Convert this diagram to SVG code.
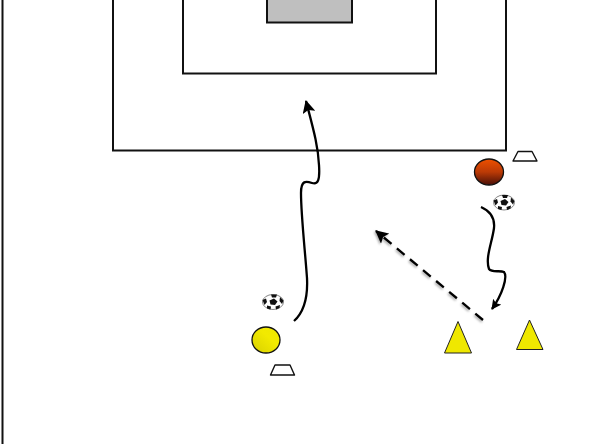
<svg xmlns="http://www.w3.org/2000/svg" width="610" height="444" viewBox="0 0 610 444">
<style>
.line{fill:none;stroke:#111;stroke-width:2}
.cone{fill:#efe800;stroke:#222;stroke-width:1}
.marker{fill:#fff;stroke:#111;stroke-width:1.4;stroke-linejoin:round}
.run{fill:none;stroke:#000;stroke-width:2.300;stroke-linecap:butt}
.spot{fill:#111}
</style>
<defs>
<linearGradient id="red" x1="0" y1="0" x2="0" y2="1"><stop offset="0" stop-color="#ee5000"/><stop offset="0.5" stop-color="#bb3a06"/><stop offset="1" stop-color="#4a1008"/></linearGradient>
<linearGradient id="yel" x1="0" y1="1" x2="1" y2="0"><stop offset="0" stop-color="#d8d000"/><stop offset="0.6" stop-color="#f2ea00"/><stop offset="1" stop-color="#efe800"/></linearGradient>
<filter id="soft" x="-20%" y="-20%" width="140%" height="140%"><feDropShadow dx="-1" dy="1.500" stdDeviation="1.200" flood-color="#000" flood-opacity="0.350"/></filter>
<marker id="head" viewBox="0 0 10 10" refX="9" refY="5" markerWidth="10" markerHeight="10" markerUnits="userSpaceOnUse" orient="auto"><path d="M0 0L10 5L0 10L2 5Z" fill="#000"/></marker>
<marker id="headL" viewBox="0 0 12 12" refX="11" refY="6" markerWidth="13" markerHeight="13" markerUnits="userSpaceOnUse" orient="auto"><path d="M0 0L12 6L0 12L2.500 6Z" fill="#000"/></marker>
<g id="ball">
<ellipse cx="0" cy="0" rx="10.500" ry="7.500" fill="#fff" stroke="#666" stroke-width="0.800"/>
<path class="spot" d="M-3.500-1.500L1-3.500L4.500-.5L2 3L-2.500 2.500Z"/>
<path class="spot" d="M-2-7.500L4-7.500L3-4.500L-1-4.500Z"/>
<path class="spot" d="M-10.500-2L-7-3.500L-6 0L-8.500 3Z"/>
<path class="spot" d="M7-5L10.500-1.500L9 2L6.500-1Z"/>
<path class="spot" d="M-6 3.500L-2 4.500L-2.500 7.500L-6 6.500Z"/>
<path class="spot" d="M2.500 4.500L7 3L6.500 6L3 7.500Z"/>
</g>
</defs>
<g id="field">
<rect id="boundary" class="line" x="2.500" y="-10" width="700" height="500"/>
<rect id="penalty-area" class="line" x="113" y="-10" width="393" height="160.500"/>
<rect id="goal-area" class="line" x="183" y="-10" width="253" height="83.500"/>
<rect id="goal" x="267" y="-10" width="85" height="32.500" fill="#bfbfbf" stroke="#111" stroke-width="2"/>
</g>
<g id="connectors">
<path id="run-left" class="run" marker-end="url(#headL)" d="M294 321C304 312 308 298 307 278C305 250 301 215 301 193C301 180 306 181 312 183C318 185 320 180 319 165C318 145 313 128 306 101"/>
<path id="run-right" class="run" marker-end="url(#head)" d="M481 207C490 211 495 218 494 228C492 243 485 258 489 269C492 273 500 270 504 272C508 277 502 295 492 309"/>
<path id="pass" class="run" stroke-dasharray="10 7" marker-end="url(#headL)" filter="url(#soft)" d="M483 320L376 231"/>
</g>
<g id="player-red"><ellipse cx="489" cy="172" rx="14.500" ry="13" fill="url(#red)" stroke="#111" stroke-width="1.300"/></g>
<g id="player-yellow"><ellipse cx="266" cy="340" rx="14" ry="13" fill="url(#yel)" stroke="#111" stroke-width="1.300"/></g>
<g id="ball-top"><use href="#ball" x="504" y="202.500"/></g>
<g id="ball-bottom"><use href="#ball" x="273" y="302"/></g>
<g id="marker-top"><path class="marker" d="M513 161L518 151.500H532L537 161Z"/></g>
<g id="marker-bottom"><path class="marker" d="M270.500 375L275 365H290L294.500 375Z"/></g>
<g id="cone-left"><path class="cone" d="M444.500 353L458 321.500L471.500 353Z"/></g>
<g id="cone-right"><path class="cone" d="M516.500 349.500L529.500 320L543 349.500Z"/></g>
</svg>
